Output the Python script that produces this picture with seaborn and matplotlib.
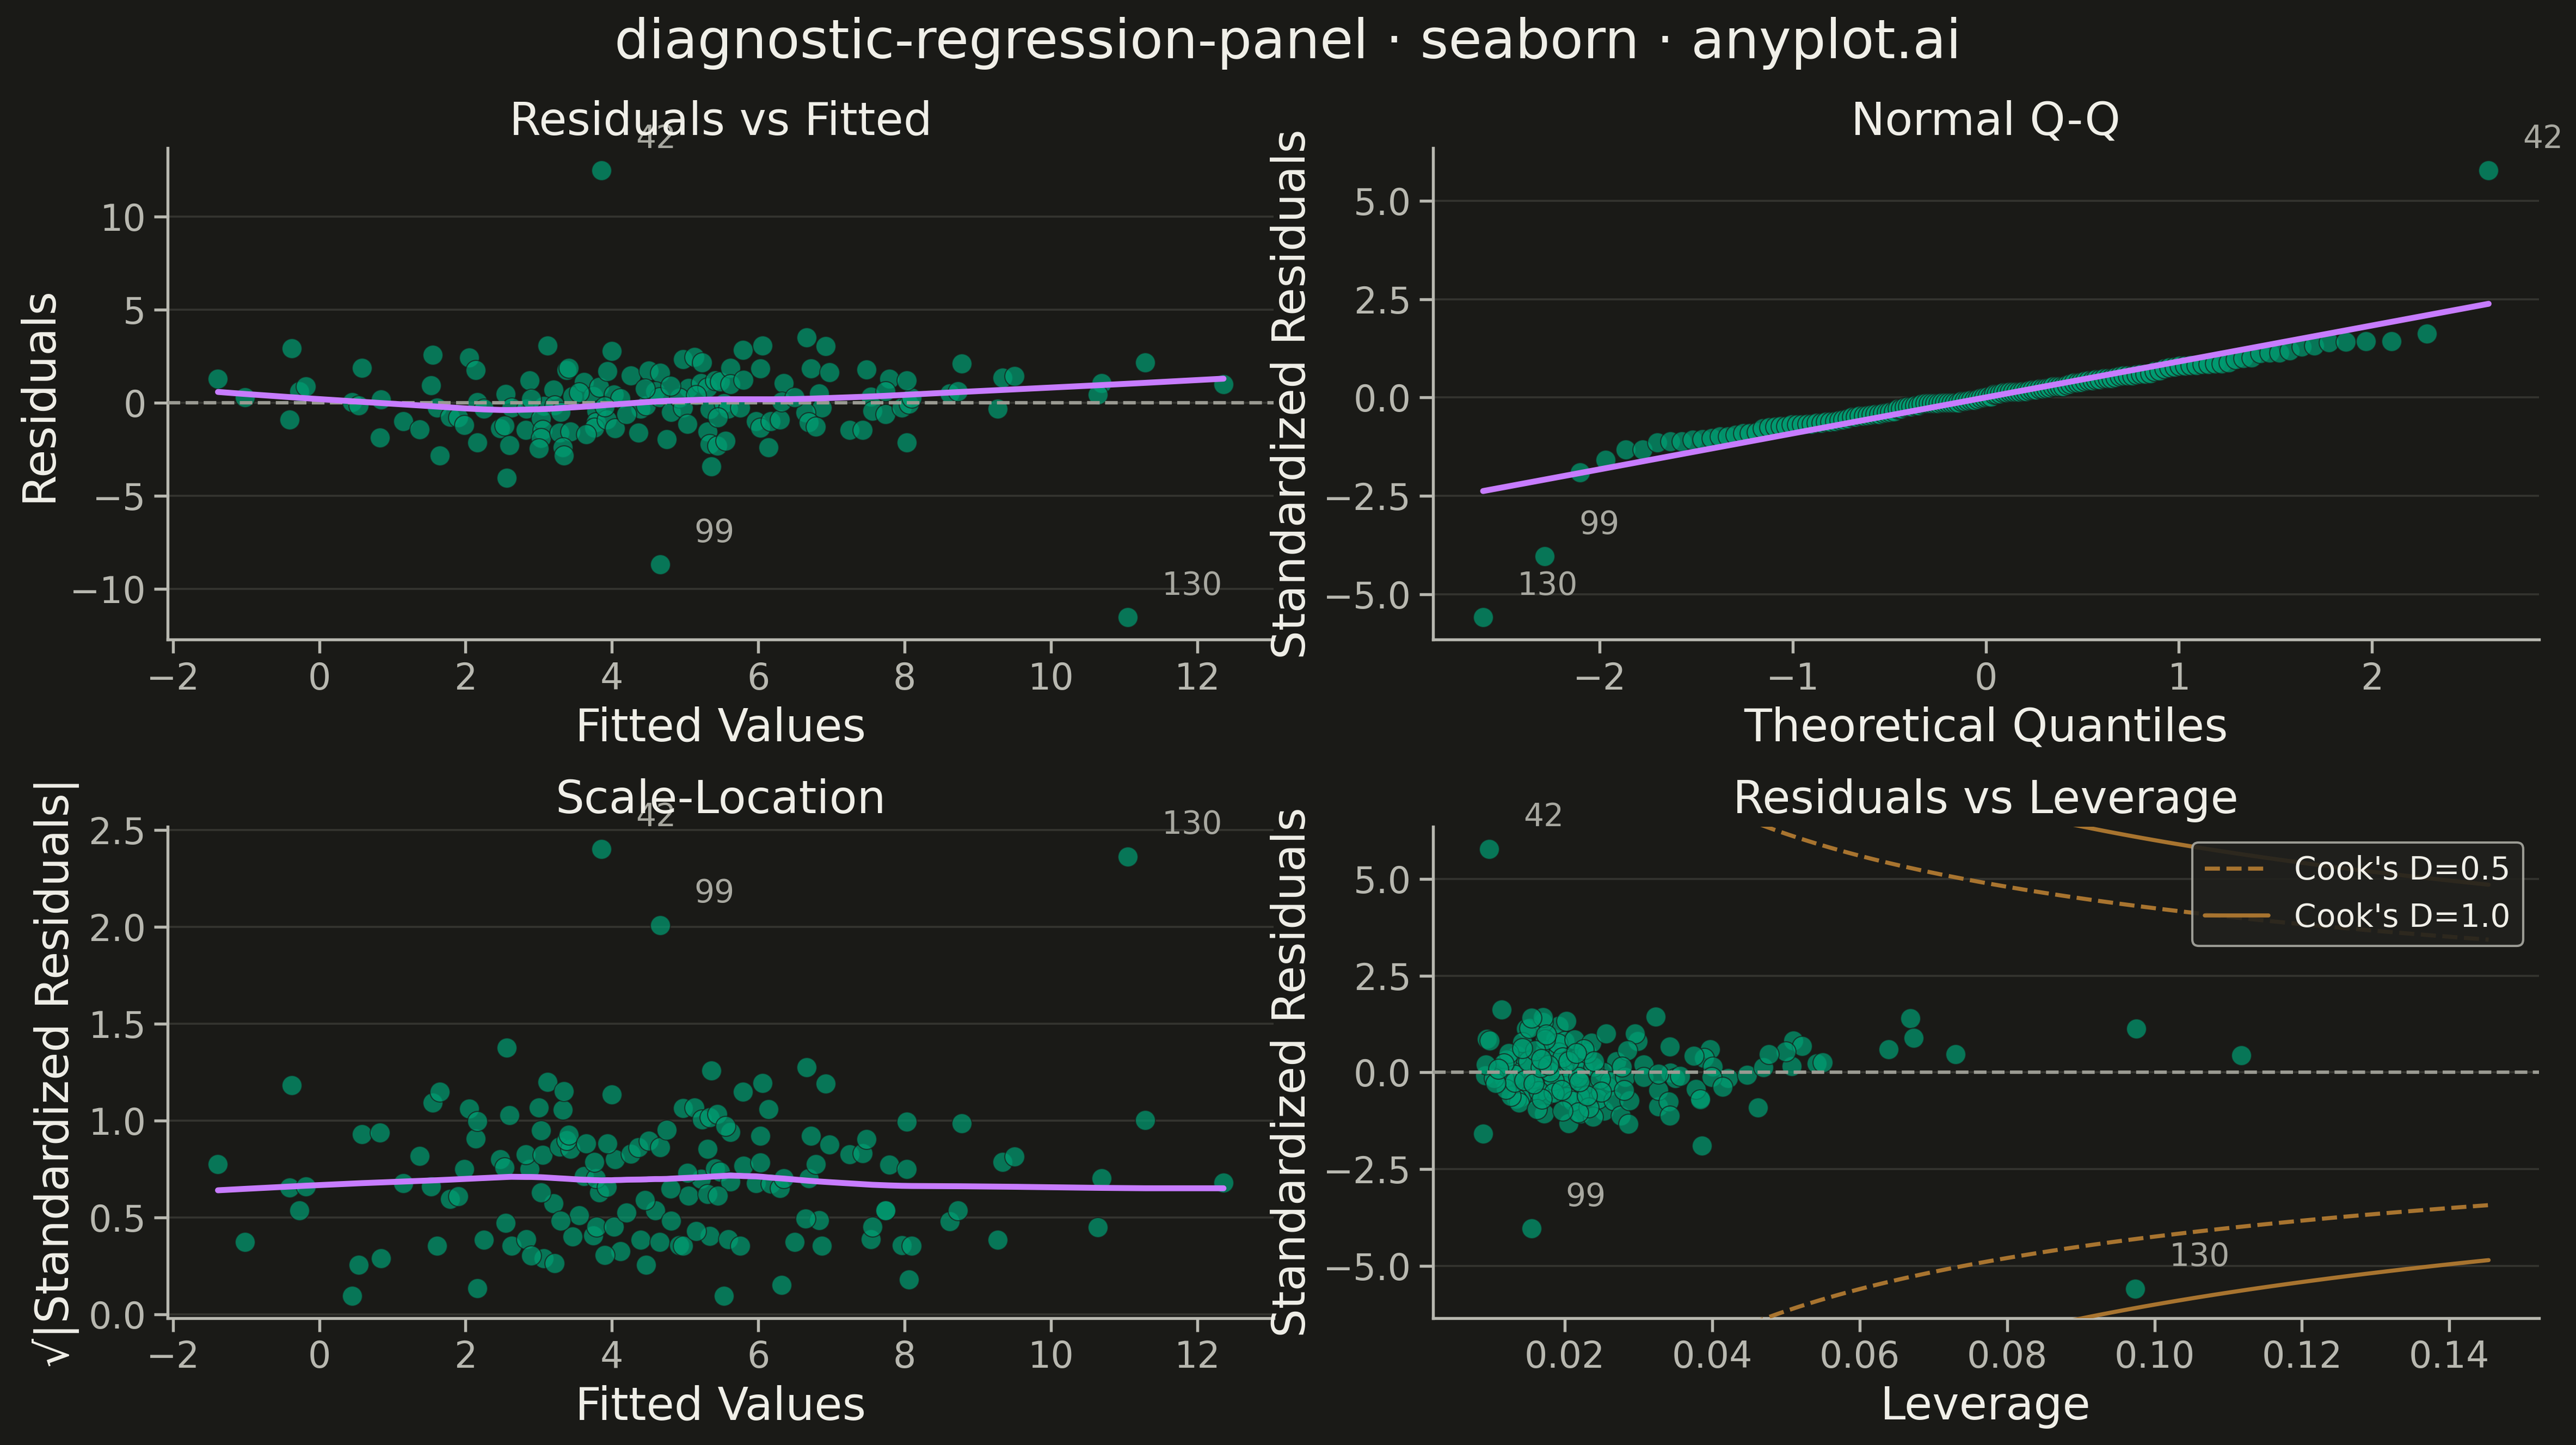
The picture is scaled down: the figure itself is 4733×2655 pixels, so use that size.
import numpy as np
import pandas as pd
import matplotlib
matplotlib.use("Agg")
import matplotlib.pyplot as plt
import seaborn as sns
from statistics import NormalDist

# ---------------- data ----------------
# non-outlying observations: fitted values and raw residuals
fitted_main = [
    -1.385, -1.02, -0.38, -0.41, -0.27, -0.18, 0.58, 0.45, 0.54, 0.84,
    0.83, 1.15, 1.375, 1.55, 1.53, 1.61, 1.65, 1.79, 1.90, 1.98,
    2.05, 2.14, 2.16, 2.25, 2.16, 2.55, 2.63, 2.47, 2.53, 2.60,
    2.56, 2.875, 2.83, 2.82, 3.12, 3.20, 3.07, 3.22, 3.03, 3.05,
    3.03, 3.00, 3.28, 3.43, 3.33, 3.34, 3.38, 3.41, 3.46, 3.62,
    3.745, 3.83, 3.79, 3.78, 3.76, 3.65, 3.93, 4.04, 3.995, 3.94,
    4.03, 4.12, 4.255, 4.36, 4.39, 4.47, 4.50, 4.66, 4.59, 4.65,
    4.75, 4.81, 4.97, 5.125, 5.23, 5.05, 5.22, 4.92, 4.97, 5.03,
    5.31, 5.41, 5.48, 5.62, 5.62, 5.34, 5.53, 5.59, 5.31, 5.34,
    5.44, 5.55, 5.36, 5.79, 5.80, 5.75, 6.06, 6.03, 5.97, 6.03,
    6.14, 6.17, 6.30, 6.35, 6.32, 6.66, 6.92, 6.72, 6.97, 6.83,
    6.87, 6.65, 6.69, 6.79, 7.25, 7.43, 7.48, 7.54, 7.56, 7.74,
    7.79, 7.74, 7.96, 8.06, 8.10, 8.03, 8.03, 8.62, 8.73, 8.78,
    9.34, 9.50, 9.27, 10.69, 10.64, 11.29, 12.36, 3.55, 4.20, 5.15,
    2.90, 3.90, 4.80, 5.45, 6.50, 3.30, 4.45,
]
residuals_main = [
    1.28, 0.30, 2.93, -0.92, 0.62, 0.89, 1.86, 0.02, -0.14, 0.18,
    -1.88, -0.98, -1.42, 2.57, 0.94, -0.27, -2.84, -0.76, -0.80, -1.21,
    2.43, 1.74, 0.04, -0.32, -2.13, 0.48, -0.27, -1.38, -1.24, -2.27,
    -4.04, 1.21, -0.32, -1.47, 3.07, 0.71, -0.18, -0.15, -0.85, -1.45,
    -1.91, -2.45, -1.60, -1.56, -2.39, -2.84, 1.74, 1.86, 0.35, 1.10,
    0.35, 0.85, -0.44, -1.06, -1.33, -1.68, -0.92, -1.38, 2.78, 1.68,
    0.44, 0.23, 1.45, -1.60, -0.32, -0.14, 1.72, 1.60, 0.62, 0.30,
    -1.95, -0.50, 2.34, 2.45, 2.16, 0.80, 1.06, 0.27, -0.27, -1.15,
    0.83, 1.21, 1.15, 1.86, 0.98, -0.35, -0.02, -0.32, -1.56, -2.22,
    -2.30, -2.04, -3.42, 2.84, 1.24, -0.27, 3.07, 1.83, -0.98, -1.33,
    -2.39, -0.98, -0.92, 1.06, 0.05, 3.51, 3.05, 1.83, 1.65, 0.50,
    -0.27, -0.53, -1.06, -1.29, -1.47, -1.47, 1.77, 0.32, -0.44, -0.62,
    1.28, 0.62, -0.27, -0.07, 0.27, 1.21, -2.13, 0.50, 0.62, 2.09,
    1.33, 1.42, -0.32, 1.06, 0.44, 2.16, 0.98, 0.55, -0.60, 0.40,
    0.20, -0.20, 0.90, -0.80, 0.30, -0.50, 0.75,
]
# the three labelled observations (index: fitted, residual)
outlier_index = [42, 99, 130]
outlier_fitted = [3.86, 4.66, 11.05]
outlier_resid = [12.46, -8.69, -11.52]

# leverage panel cloud: leverage and standardized residual of each point
cloud_leverage = [
    0.00975, 0.0155, 0.0974, 0.0639, 0.0669, 0.0673, 0.0730, 0.0975, 0.1118, 0.0542, 0.0550,
    0.0114, 0.0155, 0.0170, 0.0152, 0.0147, 0.0170, 0.0202, 0.0192,
    0.0256, 0.0323, 0.0295, 0.0299, 0.0285, 0.0098, 0.0094,
    0.0142, 0.0124, 0.0121, 0.0117,
    0.0173, 0.0187, 0.0200, 0.0213, 0.0192, 0.0173, 0.0236, 0.0230, 0.0220, 0.0197,
    0.0342, 0.0375, 0.0397, 0.0389, 0.0401,
    0.0477, 0.0500, 0.0510, 0.0522, 0.0469, 0.0508,
    0.0093, 0.0092, 0.0104, 0.0106, 0.0117, 0.0132, 0.0132, 0.0145, 0.0167, 0.0164,
    0.0157, 0.0178, 0.0197, 0.0210, 0.0218, 0.0220, 0.0239, 0.0248, 0.0261, 0.0277,
    0.0282, 0.0307, 0.0307, 0.0327, 0.0343, 0.0350, 0.0356, 0.0399, 0.0421, 0.0414,
    0.0447,
    0.0127, 0.0134, 0.0140, 0.0150, 0.0164, 0.0169, 0.0183, 0.0185, 0.0195, 0.0172,
    0.0197, 0.0205, 0.0220, 0.0230, 0.0221, 0.0238, 0.0253, 0.0249, 0.0266, 0.0276,
    0.0286, 0.0288, 0.0327, 0.0327, 0.0341, 0.0342, 0.0378, 0.0384, 0.0384, 0.0462,
    0.0386, 0.0089,
    0.0135, 0.0150, 0.0160, 0.0175, 0.0180, 0.0185, 0.0190, 0.0200, 0.0205, 0.0210,
    0.0215, 0.0225, 0.0228, 0.0232, 0.0240, 0.0245, 0.0120, 0.0128, 0.0138, 0.0142,
    0.0158, 0.0162, 0.0168, 0.0178, 0.0188, 0.0196, 0.0203, 0.0212, 0.0226, 0.0252,
    0.0258, 0.0270, 0.0280, 0.0110, 0.0145, 0.0218,
]
cloud_stdres = [
    5.75, -4.00, -5.57, 0.61, 1.39, 0.89, 0.46, 1.03, 0.44, 0.27, 0.28,
    1.61, 1.42, 1.47, 1.12, 1.12, 1.28, 1.31, 1.14,
    1.01, 1.42, 0.96, 0.81, 0.57, 0.84, 0.86,
    0.77, 0.56, 0.39, 0.25,
    0.84, 0.88, 0.81, 0.84, 0.56, 0.58, 0.72, 0.49, 0.42, 0.42,
    0.67, 0.45, 0.64, 0.42, 0.18,
    0.48, 0.56, 0.81, 0.67, 0.14, 0.21,
    0.23, -0.05, -0.15, -0.26, -0.12, -0.03, -0.26, 0.16, 0.14, -0.07,
    -0.15, 0.21, 0.09, 0.25, -0.07, -0.22, 0.16, -0.17, -0.22, 0.18,
    -0.12, 0.23, -0.12, 0.02, 0.04, -0.12, -0.05, -0.10, -0.15, -0.36,
    -0.03,
    -0.64, -0.73, -0.64, -0.59, -0.54, -0.73, -0.36, -0.54, -0.45, -1.06,
    -0.96, -1.29, -0.61, -0.61, -1.06, -1.15, -0.96, -0.52, -0.78, -1.13,
    -1.34, -0.75, -0.45, -0.87, -0.80, -1.10, -0.43, -0.66, -0.73, -0.89,
    -1.90, -1.58,
    0.45, 0.30, 0.60, 0.95, 0.05, -0.20, 0.70, -0.30, 0.35, -0.80,
    0.55, 0.10, -0.40, -0.90, 0.30, -0.70, -0.40, 0.05, -0.85, 0.65,
    -0.30, -0.95, 0.40, -0.60, 0.20, -0.10, -0.65, 0.00, 0.65, 0.05,
    -0.35, 0.35, -0.50, 0.10, -0.20, -1.00,
]
n_params = 4
cook_levels = [0.5, 1.0]

# ---------------- assemble per-observation arrays ----------------
fitted = list(fitted_main)
resid = list(residuals_main)
for idx, fv, rv in sorted(zip(outlier_index, outlier_fitted, outlier_resid)):
    fitted.insert(idx, fv)
    resid.insert(idx, rv)
fitted = np.array(fitted)
resid = np.array(resid)
n = len(resid)

lev_vals = np.array(cloud_leverage)
lev_std = np.array(cloud_stdres)
leverage = np.empty(n)
leverage[np.argsort(resid)] = lev_vals[np.argsort(lev_std)]

sigma = np.sqrt(np.sum(resid ** 2) / (n - n_params))
std_resid = resid / (sigma * np.sqrt(1 - leverage))
sqrt_abs = np.sqrt(np.abs(std_resid))
flagged = np.argsort(np.abs(std_resid))[-3:]

# Normal Q-Q (Filliben plotting positions)
m = np.empty(n)
m[-1] = 0.5 ** (1.0 / n)
m[0] = 1 - m[-1]
ii = np.arange(2, n)
m[1:-1] = (ii - 0.3175) / (n + 0.365)
nd = NormalDist()
osm = np.array([nd.inv_cdf(v) for v in m])
q_order = np.argsort(std_resid)
osr = std_resid[q_order]
slope, intercept = np.polyfit(osm, osr, 1)
qq_pos = np.empty(n, dtype=int)
qq_pos[q_order] = np.arange(n)


def lowess(x, y, frac=2.0 / 3.0, it=3):
    order = np.argsort(x)
    xs, ys = x[order], y[order]
    k = int(np.ceil(frac * len(xs)))
    rob = np.ones(len(xs))
    out = np.empty(len(xs))
    for _ in range(it + 1):
        for i in range(len(xs)):
            d = np.abs(xs - xs[i])
            h = np.sort(d)[k - 1]
            w = np.clip(d / h, 0, 1)
            w = (1 - w ** 3) ** 3 * rob
            sw = w.sum()
            mx = (w * xs).sum() / sw
            my = (w * ys).sum() / sw
            var = (w * (xs - mx) ** 2).sum()
            b = (w * (xs - mx) * (ys - my)).sum() / var if var > 1e-12 else 0.0
            out[i] = my + b * (xs[i] - mx)
        r = ys - out
        s = np.median(np.abs(r))
        u = np.clip(r / (6 * s), -1, 1)
        rob = (1 - u ** 2) ** 2
    return xs, out.copy()


# ---------------- style ----------------
BG = "#1A1A17"
TEXT = "#F0EFE8"
TICK = "#B8B8B0"
GRID = "#34342F"
POINT = "#009E73"
LINE = "#C77CFF"
COOK = "#A8742F"
ANNOT = "#A8A8A0"
ZERO = "#9A9A92"

sns.set_theme(style="ticks")
plt.rcParams.update({
    "font.family": ["DejaVu Sans"],
    "figure.facecolor": BG,
    "axes.facecolor": BG,
    "savefig.facecolor": BG,
    "axes.edgecolor": TICK,
    "axes.linewidth": 1.3,
    "axes.labelcolor": TEXT,
    "axes.titlecolor": TEXT,
    "text.color": TEXT,
    "xtick.color": TICK,
    "ytick.color": TICK,
    "xtick.labelcolor": TICK,
    "ytick.labelcolor": TICK,
    "xtick.major.size": 6,
    "ytick.major.size": 6,
    "xtick.major.width": 1.3,
    "ytick.major.width": 1.3,
    "xtick.labelsize": 16,
    "ytick.labelsize": 16,
    "axes.labelsize": 20,
    "axes.titlesize": 20,
})

fig, axes = plt.subplots(2, 2, figsize=(4733 / 300, 2655 / 300), dpi=300)
fig.subplots_adjust(left=0.0651, right=0.9856, bottom=0.0878, top=0.8974,
                    wspace=0.1438, hspace=0.3804)

sc_kw = dict(color=POINT, s=78, alpha=0.7, edgecolor=BG, linewidth=0.5, zorder=3)


def style(ax, title, xlabel, ylabel):
    ax.set_title(title, fontsize=20, color=TEXT)
    ax.set_xlabel(xlabel, fontsize=20, color=TEXT)
    ax.set_ylabel(ylabel, fontsize=20, color=TEXT)
    ax.grid(axis="y", color=GRID, linewidth=0.9)
    ax.grid(axis="x", visible=False)
    ax.set_axisbelow(True)
    sns.despine(ax=ax)


def label_points(ax, xs, ys):
    for i in flagged:
        ax.annotate(str(i), (xs[i], ys[i]), xytext=(15, 10), textcoords="offset points",
                    fontsize=14, color=ANNOT)


# Residuals vs Fitted
ax = axes[0, 0]
sns.scatterplot(x=fitted, y=resid, ax=ax, **sc_kw)
ax.axhline(0, color=ZERO, linestyle="--", linewidth=1.5, zorder=4)
lx, ly = lowess(fitted, resid)
sns.lineplot(x=lx, y=ly, ax=ax, color=LINE, linewidth=2.6, estimator=None, sort=False, zorder=5)
label_points(ax, fitted, resid)
style(ax, "Residuals vs Fitted", "Fitted Values", "Residuals")

# Normal Q-Q
ax = axes[0, 1]
sns.scatterplot(x=osm, y=osr, ax=ax, **sc_kw)
qx = np.array([osm[0], osm[-1]])
sns.lineplot(x=qx, y=slope * qx + intercept, ax=ax, color=LINE, linewidth=2.6,
             estimator=None, sort=False, zorder=5)
for i in flagged:
    ax.annotate(str(i), (osm[qq_pos[i]], osr[qq_pos[i]]), xytext=(15, 10),
                textcoords="offset points", fontsize=14, color=ANNOT)
style(ax, "Normal Q-Q", "Theoretical Quantiles", "Standardized Residuals")

# Scale-Location
ax = axes[1, 0]
sns.scatterplot(x=fitted, y=sqrt_abs, ax=ax, **sc_kw)
sx, sy = lowess(fitted, sqrt_abs)
sns.lineplot(x=sx, y=sy, ax=ax, color=LINE, linewidth=2.6, estimator=None, sort=False, zorder=5)
label_points(ax, fitted, sqrt_abs)
style(ax, "Scale-Location", "Fitted Values", "\u221a|Standardized Residuals|")

# Residuals vs Leverage
ax = axes[1, 1]
sns.scatterplot(x=leverage, y=std_resid, ax=ax, **sc_kw)
ax.axhline(0, color=ZERO, linestyle="--", linewidth=1.5, zorder=4)
hx = np.linspace(leverage.min(), leverage.max() * 1.3, 100)
for level, ls in zip(cook_levels, ["--", "-"]):
    bound = np.sqrt(level * n_params * (1 - hx) / hx)
    sns.lineplot(x=hx, y=bound, ax=ax, color=COOK, linewidth=1.8, linestyle=ls,
                 estimator=None, sort=False, label=f"Cook's D={level}", zorder=4)
    sns.lineplot(x=hx, y=-bound, ax=ax, color=COOK, linewidth=1.8, linestyle=ls,
                 estimator=None, sort=False, zorder=4)
lim = np.abs(std_resid).max() * 1.1
ax.set_ylim(-lim, lim)
label_points(ax, leverage, std_resid)
leg = ax.legend(loc="upper right", fontsize=14, frameon=True, facecolor="#20201D",
                edgecolor="#AAAAA2", framealpha=0.9)
for t in leg.get_texts():
    t.set_color(TEXT)
style(ax, "Residuals vs Leverage", "Leverage", "Standardized Residuals")

fig.suptitle("diagnostic-regression-panel \u00b7 seaborn \u00b7 anyplot.ai", fontsize=24,
             color=TEXT, x=0.5, y=0.9598, va="baseline")

fig.savefig("out.png", dpi=300, facecolor=BG)
